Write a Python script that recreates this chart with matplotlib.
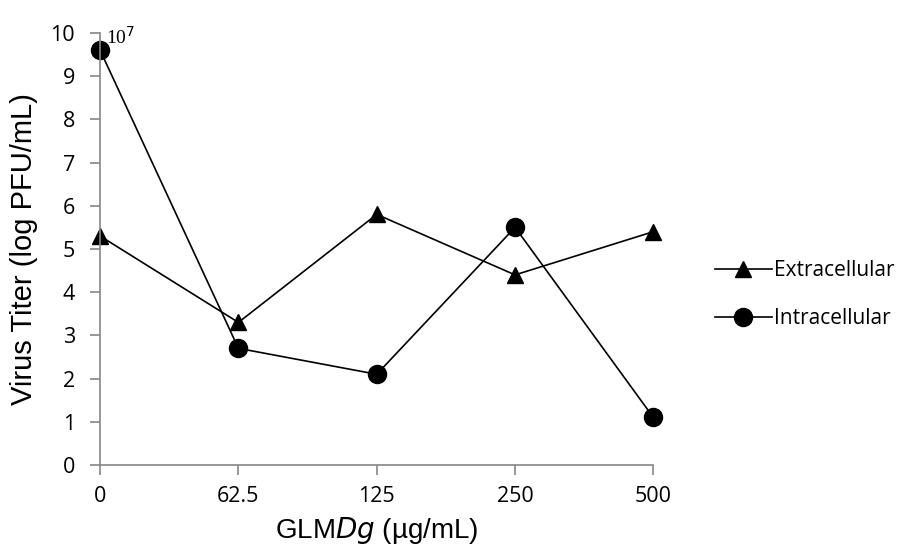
import matplotlib.pyplot as plt
import numpy as np

conc_labels = ['0', '62.5', '125', '250', '500']
extracellular = [5.3, 3.3, 5.8, 4.4, 5.4]
intracellular = [9.6, 2.7, 2.1, 5.5, 1.1]

plt.rcParams['font.family'] = ['Open Sans', 'DejaVu Sans']

fig = plt.figure(figsize=(9.1, 5.49), dpi=100)
ax = fig.add_axes([0.110, 0.153, 0.608, 0.787])

x = np.arange(len(conc_labels))
ax.plot(x, extracellular, color='black', lw=1.2, marker='^', ms=12,
        label='Extracellular', clip_on=False)
ax.plot(x, intracellular, color='black', lw=1.2, marker='o', ms=13,
        label='Intracellular', clip_on=False)

ax.set_xlim(0, 4)
ax.set_ylim(0, 10)
ax.set_yticks(range(0, 11))
ax.set_xticks(x)
ax.set_xticklabels(conc_labels)

for side in ['top', 'right']:
    ax.spines[side].set_visible(False)
for side in ['left', 'bottom']:
    ax.spines[side].set_color('#868686')
    ax.spines[side].set_linewidth(1.2)
ax.tick_params(axis='both', colors='#868686', labelcolor='black',
               labelsize=15.5, length=7, width=1.2)
ax.tick_params(axis='x', pad=8)
ax.tick_params(axis='y', pad=11)

ax.set_xlabel('GLM$\\it{Dg}$ (µg/mL)', fontsize=20, family='Liberation Sans',
              labelpad=6)
ax.set_ylabel('Virus Titer (log PFU/mL)', fontsize=21, family='Liberation Sans',
              labelpad=9)

ax.text(0.04, 9.75, '10$^7$', fontsize=14, family='Liberation Serif',
        va='baseline', ha='left')

ax.legend(loc='center left', bbox_to_anchor=(1.078, 0.395), frameon=False,
          fontsize=15, handlelength=2.7, handletextpad=0.1, labelspacing=1.3)

fig.savefig('out.png', dpi=100)
